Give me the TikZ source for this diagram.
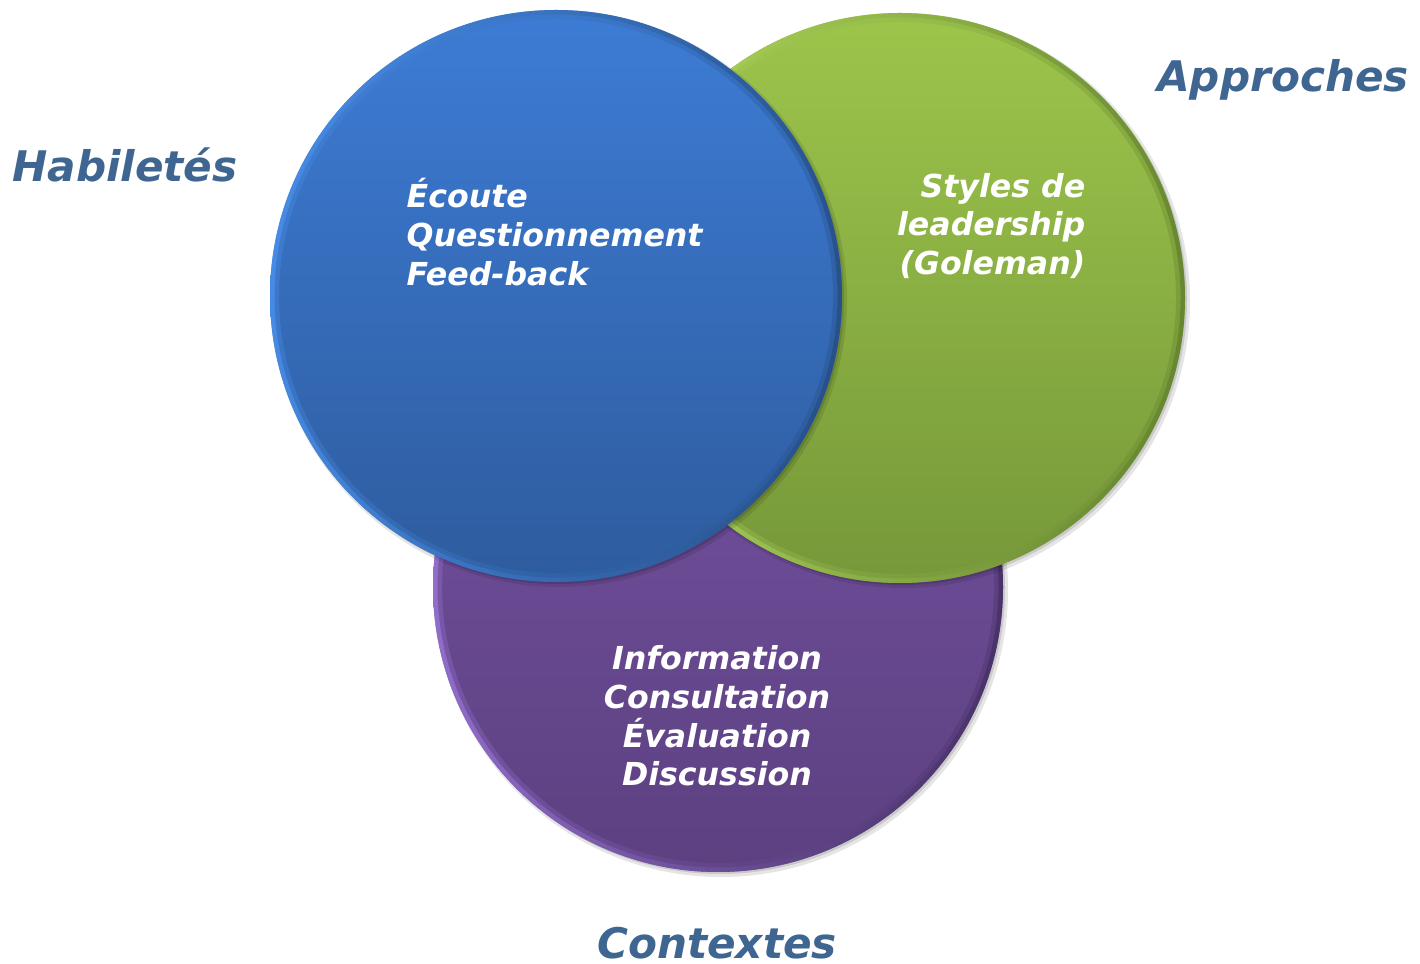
\documentclass[tikz,border=0pt]{standalone}
\usepackage{fontspec}
\newfontfamily\vfont{DejaVu Sans}[BoldItalicFont={DejaVu Sans Bold Oblique}]
\usetikzlibrary{calc}
\definecolor{labelblue}{HTML}{3F6591}
\definecolor{bluetop}{HTML}{3D7CD5}
\definecolor{bluebot}{HTML}{2E5C9E}
\definecolor{bluelight}{HTML}{4C95F2}
\definecolor{bluedark}{HTML}{24487C}
\definecolor{greentop}{HTML}{9DC54B}
\definecolor{greenbot}{HTML}{76983A}
\definecolor{greenlight}{HTML}{BCE466}
\definecolor{greendark}{HTML}{5C7A2A}
\definecolor{purpletop}{HTML}{7653A4}
\definecolor{purplebot}{HTML}{5C4080}
\definecolor{purplelight}{HTML}{A07AE0}
\definecolor{purpledark}{HTML}{3F2B5C}
\tikzset{
  outerlabel/.style={font=\vfont\bfseries\itshape\fontsize{12}{14}\selectfont, text=labelblue, inner sep=0pt},
  innertext/.style={font=\vfont\bfseries\itshape\fontsize{9}{11}\selectfont, text=white, inner sep=0pt},
}
% one disc of the diagram: shadow, vertical gradient, bevelled rim
\newcommand{\vdisc}[6]{% centre, radius, top, bottom, light rim, dark rim
  \fill[black, opacity=0.10] ($#1+(0.03,-0.03)$) circle ({#2+0.02});
  \fill[black, opacity=0.12] ($#1+(0.02,-0.02)$) circle ({#2});
  \shade[top color=#3, bottom color=#4] #1 circle (#2);
  \shade[shading angle=135, left color=#5, right color=#6, even odd rule, opacity=0.75]
    #1 circle (#2) #1 circle ({#2-0.045});
  \shade[shading angle=135, left color=#5, right color=#6, even odd rule, opacity=0.3]
    #1 circle ({#2-0.045}) #1 circle ({#2-0.09});
}
\begin{document}
\begin{tikzpicture}
\useasboundingbox (0,0) rectangle (14.2,9.64);
\fill[white] (0,0) rectangle (14.2,9.64);

\coordinate (pc) at (7.18,3.77);
\coordinate (gc) at (9.00,6.66);
\coordinate (bc) at (5.56,6.68);

\vdisc{(pc)}{2.85}{purpletop}{purplebot}{purplelight}{purpledark}
\vdisc{(gc)}{2.85}{greentop}{greenbot}{greenlight}{greendark}
\vdisc{(bc)}{2.86}{bluetop}{bluebot}{bluelight}{bluedark}

% texts inside the discs
\node[innertext, align=left, anchor=west] (btext) at (4.06,7.32)
  {Écoute\\Questionnement\\Feed-back};
\node[innertext, align=right, anchor=east] (gtext) at (10.86,7.38)
  {Styles de\\leadership\\(Goleman)};
\node[innertext, align=center] (ptext) at (7.17,2.48)
  {Information\\Consultation\\Évaluation\\Discussion};

% labels round the diagram
\node[outerlabel] (hab) at (1.25,7.99) {Habiletés};
\node[outerlabel] (app) at (12.83,8.84) {Approches};
\node[outerlabel] (ctx) at (7.17,0.21) {Contextes};
\end{tikzpicture}
\end{document}
